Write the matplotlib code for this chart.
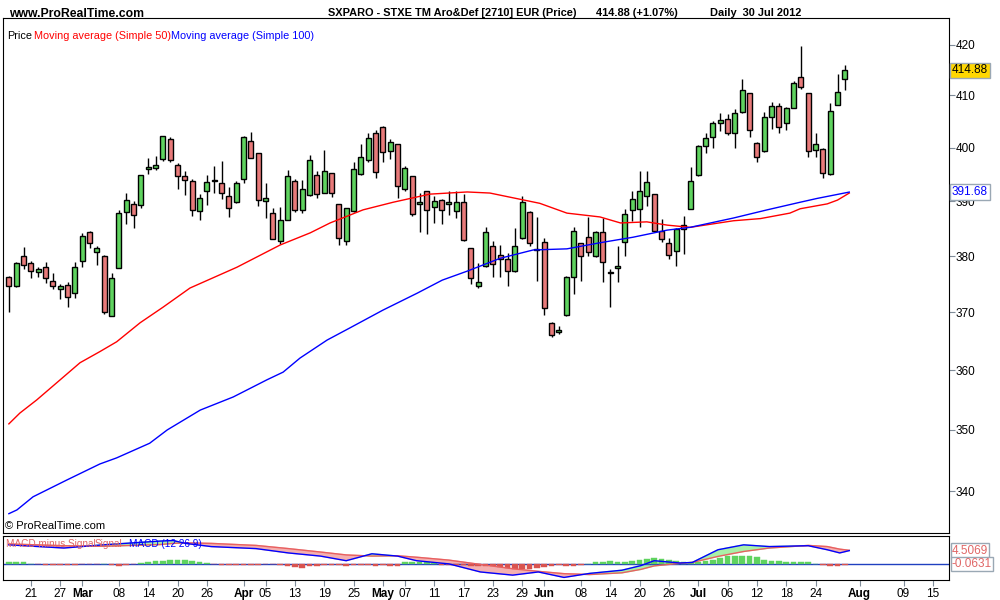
import numpy as np
import pandas as pd
import matplotlib.pyplot as plt
from matplotlib.ticker import FixedLocator, NullLocator, NullFormatter

plt.rcParams["font.family"] = ["Liberation Sans", "DejaVu Sans"]

# daily candles, 16 Feb 2012 .. 30 Jul 2012 (trading days)
opens = [376.3, 374.7, 380, 378.8, 377.2, 378.1, 375.6, 374.2, 374.9, 373.5,
         379.1, 384.3, 380.7, 380, 369.3, 377.8, 388, 389.5, 389.3, 395.9,
         396.1, 397.8, 401.6, 396.7, 394.6, 393.7, 388.1, 391.9, 393.8, 393.4,
         390.9, 389.8, 394.1, 401.3, 398.9, 390, 387.9, 382.8, 386.6, 393.7,
         388.3, 391.1, 394.9, 391.6, 395.2, 389.4, 382.8, 388.1, 395, 397.6,
         402.8, 404, 399.4, 400.6, 392.3, 394.6, 389.4, 391.8, 388.9, 390.2,
         389.5, 388.1, 389.9, 381.4, 374.6, 378.2, 381.8, 380.2, 379.4, 377.3,
         383.3, 388, 381.3, 382.6, 368.2, 366.6, 369.5, 376.2, 382.3, 383.5,
         380, 384.3, 377.2, 377.8, 382.5, 388.3, 388.5, 391, 391.3, 384.6,
         382.3, 380.9, 385.6, 388.6, 394.9, 400.4, 402.1, 404.6, 405.4, 402.8,
         406.8, 410.4, 400.9, 399.3, 405.9, 407.9, 404.6, 407.6, 413.6, 410.4,
         399.6, 399.8, 395, 408.2, 413.3]
highs = [376.5, 379, 381.6, 379.1, 378.1, 379, 376.9, 375, 375.4, 379,
         384.1, 384.6, 381.8, 380.2, 376.9, 388.4, 391.6, 390, 394.9, 398,
         398.5, 402.3, 402, 397.1, 395.6, 394.2, 391.4, 394.9, 396.6, 397.4,
         392.6, 393.7, 402.2, 403, 399, 393.4, 388.7, 388.9, 395.8, 394.1,
         393.9, 398.6, 395.6, 399.6, 395.3, 389.5, 388.7, 397.3, 400.6, 402.7,
         403.4, 404.1, 401.6, 400.7, 396.5, 394.7, 391.6, 391.9, 391, 390.4,
         391.8, 391.8, 391.4, 381.5, 378.8, 385.2, 382.8, 382, 380.6, 385,
         391, 388.1, 387, 383.3, 368.3, 367.6, 376.4, 385.2, 382.4, 387.1,
         384.6, 386.9, 377.7, 381.8, 388.6, 391.8, 395.6, 395.6, 391.4, 386.8,
         383.3, 385, 387.3, 396.4, 400.5, 402.8, 405, 406.7, 406.5, 407.3,
         413.3, 410.5, 401, 406.8, 408.8, 408.5, 407.7, 412.8, 419.8, 410.5,
         402.8, 399.9, 408.5, 414.1, 415.9]
lows = [370, 374.5, 377.7, 376, 376.3, 375.2, 374.2, 372.3, 371, 372.6,
        378.1, 381.4, 378.4, 369.8, 369.3, 377.8, 385.9, 385, 388.7, 395,
        395.8, 397.5, 397.2, 392.3, 391.1, 387.3, 386.6, 389.3, 391.6, 390.4,
        387, 389.6, 393.4, 398, 389.1, 386.9, 383, 382.2, 386.5, 388,
        387.9, 391, 390.6, 391.6, 390.7, 382, 382, 388, 394.9, 397.3,
        394.3, 397.3, 397.8, 390.6, 391.9, 387.2, 384.3, 384, 386, 385.8,
        387.4, 386.9, 382.8, 375.1, 374.3, 378, 376.3, 376.3, 374.6, 377.2,
        383, 381.8, 375.6, 369.6, 365.8, 366.2, 369.4, 373.3, 375.6, 380,
        379.9, 375.3, 371, 375.3, 380, 386.3, 385.3, 389.1, 384.4, 382.5,
        379.4, 378.2, 380.4, 388.5, 394.7, 399, 399.9, 403.2, 402.4, 400,
        406.7, 402, 397.3, 399.2, 403.5, 402.8, 403.4, 407.5, 411.2, 398.2,
        398.3, 394.3, 394.9, 408.2, 411.1]
closes = [374.7, 378.8, 378.4, 377.4, 377.7, 376.1, 374.7, 374.7, 372.8, 378.1,
          383.6, 382.3, 381.4, 370, 376.1, 387.9, 390.2, 387.4, 394.8, 396.3,
          396.7, 402.3, 397.6, 394.6, 393.9, 388.3, 390.6, 393.5, 393.9, 391.6,
          388.7, 393.4, 402.1, 398.1, 390.2, 390.6, 383.1, 386.6, 394.6, 388.3,
          392.3, 397.6, 391.3, 395.6, 391.5, 383.3, 388.7, 396, 398.3, 401.8,
          395.4, 399.2, 401, 392.8, 396.1, 387.6, 389.8, 388.3, 390, 388.4,
          389.8, 389.9, 382.9, 376.1, 375.3, 384.4, 378.5, 379.4, 377.3, 381.8,
          389.9, 382.3, 381.1, 370.7, 366, 366.9, 376.2, 384.5, 380, 380.7,
          384.3, 379, 377, 378.2, 387.6, 390.4, 391.9, 393.5, 384.5, 383,
          380.2, 384.9, 384.9, 393.7, 400.4, 401.9, 404.6, 405.2, 402.8, 406.6,
          411.1, 403.3, 398.3, 405.9, 408, 403.9, 407.6, 412.4, 411.7, 399.4,
          400.6, 395.2, 406.9, 410.6, 414.88]

# moving averages (candle index, value)
ma50_idx = [0, 1.5, 3.8, 7, 9.7, 12.4, 14.7, 17.9, 21, 24.7, 31.1, 37, 41.1, 43.8,
            48.3, 52.4, 57.4, 62.5, 65.6, 72.4, 76.1, 80.6, 83.4, 87, 89.8, 92.9,
            98.8, 102.5, 106.5, 107.9, 111.6, 113, 114.6]
ma50_val = [351.0, 352.8, 355.0, 358.4, 361.3, 363.2, 364.9, 368.2, 370.9, 374.3,
            378.0, 382.0, 384.2, 386.0, 388.4, 389.8, 391.3, 391.7, 391.5, 389.6,
            387.8, 387.1, 386.0, 386.2, 385.6, 385.2, 386.4, 386.8, 387.8, 388.6,
            389.5, 390.2, 391.5]
ma100_idx = [0, 1.1, 3.3, 7.9, 12.4, 14.7, 19.2, 21.6, 26.1, 30.6, 35.2, 37.4, 39.7,
             43.4, 46.5, 51, 55.7, 59.1, 62.5, 67, 71.5, 76.1, 80.6, 85.1, 89.8,
             92.9, 98.8, 103.4, 107.9, 110.2, 114.6]
ma100_val = [336.4, 337.0, 339.1, 341.8, 344.4, 345.4, 347.8, 350.0, 353.3, 355.5,
             358.4, 359.7, 362.1, 365.2, 367.3, 370.4, 373.4, 375.7, 377.3, 379.6,
             381.1, 381.3, 382.4, 383.4, 384.7, 385.2, 386.9, 388.4, 389.8, 390.5,
             391.68]

# MACD (12 26 9)
macd_idx = [0, 7.5, 12.8, 20.6, 22.4, 24.1, 27.6, 33.7, 38.1, 42.5, 46, 49.5, 53,
            55.6, 60, 64.3, 68.7, 72.2, 75.7, 79.2, 83.6, 86.2, 88, 91.5, 93.2,
            96.7, 100.2, 103.7, 109, 111.6, 113.3, 114.6]
macd_val = [6.5, 5.4, 6.5, 7.8, 8.0, 7.0, 5.9, 5.2, 3.7, 2.6, 1.0, 3.4, 2.6, 1.0,
            -0.1, -2.9, -4.0, -2.9, -4.8, -3.4, -2.3, -0.7, 1.0, 0.2, 0.4, 4.8,
            6.5, 5.9, 6.2, 4.8, 3.7, 4.5]
signal_val = [6.8, 6.2, 6.0, 6.6, 7.0, 7.2, 7.0, 6.3, 5.2, 4.0, 3.0, 2.6, 2.7, 2.2,
              1.2, -0.3, -1.8, -2.7, -3.5, -3.8, -3.2, -2.0, -0.8, 0.1, 0.4, 2.5,
              4.2, 5.4, 6.3, 5.9, 5.0, 4.6]
hist = [0.4, 0.4, 0.4, 0.0,
        -0.3, -0.5, -0.6, -0.6, -0.5, -0.4, -0.3,
        -0.1, -0.1, 0.0,
        -0.6, -0.7, -0.6,
        -0.1, 0.3,
        0.5, 0.8, 1.0, 1.2, 1.3, 1.1, 0.9, 0.6, 0.3,
        -0.2, -0.4, -0.5, -0.5, -0.6, -0.5, -0.4, -0.3, -0.3, -0.5,
        -0.9, -1.3, -1.5, -1.0, -0.8, -0.5,
        -0.6, -0.5, -0.7, -0.5, -0.4, -0.6, -0.8, -0.6, -0.7, -0.7,
        0.4, 0.6, 0.6, 0.5, 0.3,
        -0.4, -0.5, -0.6, -0.6, -0.7, -0.8, -0.8, -1.0, -1.2,
        -1.5, -1.8, -2.0, -1.9, -1.6, -1.3, -0.9, -0.5,
        -0.8, -1.0, -0.6, 0.0,
        0.5, 0.7, 0.8, 0.6, 0.6, 0.8, 1.2, 1.5, 1.8, 1.6, 1.2, 1.0, 0.6, 0.3,
        0.4, 0.8, 1.3, 1.9, 2.5, 2.6, 2.6, 2.5, 2.2, 1.3, 1.0, 0.9, 0.6,
        0.5, 0.6, 0.4, 0.0,
        -0.6, -0.9, -0.8, -0.5]

holidays = ["2012-04-06", "2012-04-09", "2012-05-01"]
dates = pd.bdate_range("2012-02-16", "2012-08-24")
dates = dates[~dates.isin(pd.to_datetime(holidays))]

tick_dates = ["2012-02-21", "2012-02-27", "2012-03-01", "2012-03-08", "2012-03-14",
              "2012-03-20", "2012-03-26", "2012-04-02", "2012-04-05", "2012-04-13",
              "2012-04-19", "2012-04-25", "2012-05-02", "2012-05-07", "2012-05-11",
              "2012-05-17", "2012-05-23", "2012-05-29", "2012-06-01", "2012-06-08",
              "2012-06-14", "2012-06-20", "2012-06-26", "2012-07-02", "2012-07-06",
              "2012-07-12", "2012-07-18", "2012-07-24", "2012-08-01", "2012-08-09",
              "2012-08-15"]
tick_labels = ["21", "27", "Mar", "08", "14", "20", "26", "Apr", "05", "13", "19",
               "25", "May", "07", "11", "17", "23", "29", "Jun", "08", "14", "20",
               "26", "Jul", "06", "12", "18", "24", "Aug", "09", "15"]

GREEN = "#5fd35f"
RED = "#e87a7a"

fig = plt.figure(figsize=(10, 6), dpi=100)
ax = fig.add_axes([0.003, 0.1123, 0.946, 0.8577])
mx = fig.add_axes([0.003, 0.0333, 0.946, 0.074])

x = np.arange(len(closes))
o = np.array(opens); c = np.array(closes)
h = np.array(highs); l = np.array(lows)
up = c >= o
cols = np.where(up, GREEN, RED)
ax.vlines(x, l, h, color="black", lw=1, zorder=2)
ax.bar(x, np.maximum(np.abs(c - o), 0.15), bottom=np.minimum(o, c), width=0.65,
       color=cols, edgecolor="black", linewidth=1, zorder=3)
ax.plot(ma50_idx, ma50_val, color="red", lw=1, zorder=4)
ax.plot(ma100_idx, ma100_val, color="blue", lw=1, zorder=4)

ax.set_yscale("log")
ax.set_ylim(333.4, 425.3)
ax.set_xlim(-0.8, 128.2)
yt = [340, 350, 360, 370, 380, 390, 400, 410, 420]
ax.yaxis.set_major_locator(FixedLocator(yt))
ax.yaxis.set_minor_locator(NullLocator())
ax.yaxis.set_minor_formatter(NullFormatter())
ax.set_yticklabels([str(v) for v in yt])
for lab, v in zip(ax.get_yticklabels(), yt):
    if v in (350, 400):
        lab.set_fontweight("bold")
        lab.set_fontsize(10)
ax.yaxis.tick_right()
ax.tick_params(axis="y", which="both", length=4, color="#7f8c99", labelsize=8.5, pad=1)
ax.set_xticks([])

ax.text(1.003, 414.88, "414.88", transform=ax.get_yaxis_transform(), va="center",
        ha="left", fontsize=8.5,
        bbox=dict(boxstyle="square,pad=0.15", fc="#ffd700", ec="#9aa8b4", lw=1))
ax.text(1.003, 391.68, "391.68", transform=ax.get_yaxis_transform(), va="center",
        ha="left", fontsize=8.5, color="blue",
        bbox=dict(boxstyle="square,pad=0.15", fc="white", ec="#9aa8b4", lw=1))
ax.text(0.002, 0.004, "\u00a9 ProRealTime.com", transform=ax.transAxes, fontsize=8,
        va="bottom", ha="left")

# MACD pane
hcols = np.where(np.array(hist) >= 0, GREEN, "#d9534f")
mx.bar(x, hist, width=0.75, color=hcols, edgecolor=hcols, lw=0.3, zorder=2)
mi = np.array(macd_idx); mv = np.array(macd_val); sv = np.array(signal_val)
mx.fill_between(mi, mv, sv, where=mv >= sv, color="#a8f0a8", interpolate=True, zorder=1)
mx.fill_between(mi, mv, sv, where=mv < sv, color="#f4b0b0", interpolate=True, zorder=1)
mx.plot(mi, sv, color="#e86060", lw=1, zorder=3)
mx.plot(mi, mv, color="blue", lw=1, zorder=3)
mx.axhline(-0.0631, color="#2040c0", lw=1, zorder=1)
mx.set_xlim(-0.8, 128.2)
mx.set_ylim(-5.7, 9.7)
mx.set_yticks([])
idx_of = {d: i for i, d in enumerate(dates)}
mx.set_xticks([idx_of[pd.Timestamp(d)] for d in tick_dates])
mx.set_xticklabels(tick_labels)
for lab in mx.get_xticklabels():
    if not lab.get_text().isdigit():
        lab.set_fontweight("bold")
        lab.set_fontsize(9.5)
mx.tick_params(axis="x", length=4, color="#7f8c99", labelsize=8.5, pad=2)
mx.text(1.003, 4.5069, "4.5069", transform=mx.get_yaxis_transform(), va="center",
        ha="left", fontsize=8.5, color="#e06666",
        bbox=dict(boxstyle="square,pad=0.1", fc="white", ec="#9aa8b4", lw=1))
mx.text(1.003, -0.0631, "-0.0631", transform=mx.get_yaxis_transform(), va="center",
        ha="left", fontsize=8.5, color="#e06666",
        bbox=dict(boxstyle="square,pad=0.1", fc="white", ec="#9aa8b4", lw=1))
mx.text(0.003, 0.93, "MACD minus Signal", transform=mx.transAxes, fontsize=7.2,
        color="#e06666", va="top")
mx.text(0.097, 0.93, "Signal", transform=mx.transAxes, fontsize=7.2,
        color="#e06666", va="top")
mx.text(0.133, 0.93, "MACD (12 26 9)", transform=mx.transAxes, fontsize=7.2,
        color="blue", va="top")

# header texts
fig.text(0.009, 0.986, "www.ProRealTime.com", fontsize=8.8, fontweight="bold", va="top")
fig.text(0.328, 0.986, "SXPARO - STXE TM Aro&Def [2710] EUR (Price)",
         fontsize=7.9, fontweight="bold", va="top")
fig.text(0.596, 0.986, "414.88 (+1.07%)", fontsize=7.9, fontweight="bold", va="top")
fig.text(0.710, 0.986, "Daily  30 Jul 2012", fontsize=7.9, fontweight="bold", va="top")
fig.text(0.007, 0.949, "Price", fontsize=7.8, va="top")
fig.text(0.034, 0.949, "Moving average (Simple 50)", fontsize=7.8, va="top", color="red")
fig.text(0.171, 0.949, "Moving average (Simple 100)", fontsize=7.8, va="top", color="blue")

fig.savefig("out.png", dpi=100)
